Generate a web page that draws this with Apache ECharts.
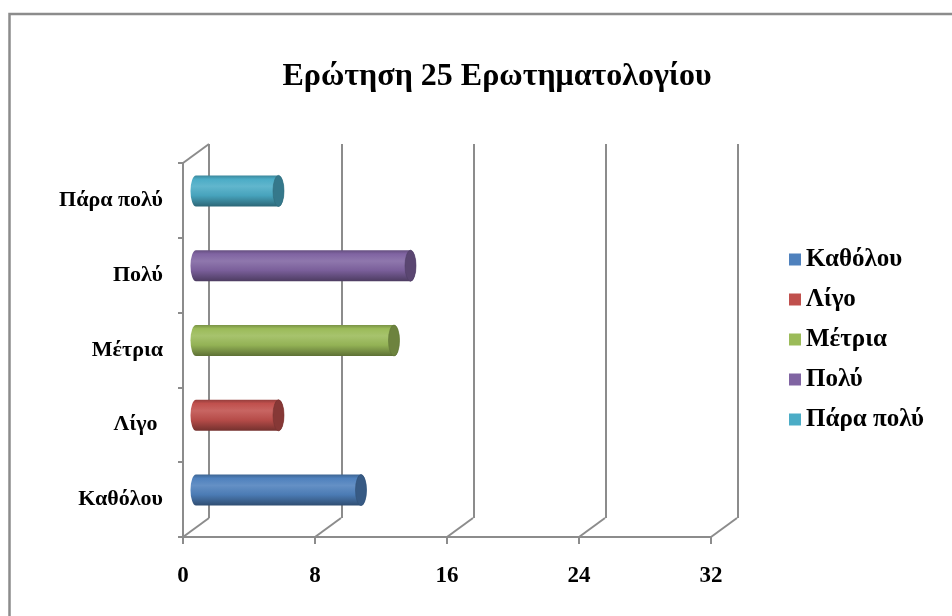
<!DOCTYPE html>
<html>
<head>
<meta charset="utf-8">
<script src="https://cdn.jsdelivr.net/npm/echarts@6/dist/echarts.min.js"></script>
<style>
  html, body { margin: 0; padding: 0; background: #ffffff; }
  #chart { width: 952px; height: 616px; }
</style>
</head>
<body>
<div id="chart"></div>
<script>
// Answers to question 25 of the questionnaire
const categories = ['Καθόλου', 'Λίγο ', 'Μέτρια', 'Πολύ', 'Πάρα πολύ'];
const values = [10, 5, 12, 13, 5];
const xTicks = [0, 8, 16, 24, 32];
const titleText = 'Ερώτηση 25 Ερωτηματολογίου';

const palette = ['#4F81BD', '#C0504D', '#9BBB59', '#8064A2', '#4BACC6'];
const FONT = "'Liberation Serif', 'Times New Roman', serif";
const GRID_GRAY = '#8c8c8c';
const DEPTH = [26, -19];       // oblique offset of the back wall
const BAR_DEPTH = [13, -9.5];  // bars sit half way into the depth

function shade(hex, f) {
  const n = parseInt(hex.slice(1), 16);
  let r = (n >> 16) & 255, g = (n >> 8) & 255, b = n & 255;
  if (f >= 1) {
    const t = f - 1;
    r = r + (255 - r) * t; g = g + (255 - g) * t; b = b + (255 - b) * t;
  } else {
    r *= f; g *= f; b *= f;
  }
  return 'rgb(' + Math.round(r) + ',' + Math.round(g) + ',' + Math.round(b) + ')';
}

// Cylinder-shaped horizontal bar
function cylinderRender(color) {
  return function (params, api) {
    const v = api.value(0);
    const c = api.value(1);
    const p0 = api.coord([0, c]);
    const p1 = api.coord([v, c]);
    const h = api.size([0, 1])[1] * 0.415;
    const rx = 5.5, ry = h / 2;
    const yt = p0[1] - ry, yb = p0[1] + ry;
    const x0 = p0[0], x1 = p1[0];
    const body = 'M' + x0 + ',' + yt + 'L' + x1 + ',' + yt +
      'A' + rx + ',' + ry + ',0,0,1,' + x1 + ',' + yb +
      'L' + x0 + ',' + yb +
      'A' + rx + ',' + ry + ',0,0,1,' + x0 + ',' + yt + 'Z';
    const cap = 'M' + x1 + ',' + yt +
      'A' + rx + ',' + ry + ',0,0,1,' + x1 + ',' + yb +
      'A' + rx + ',' + ry + ',0,0,1,' + x1 + ',' + yt + 'Z';
    return {
      type: 'group',
      children: [
        {
          type: 'path',
          shape: { pathData: body },
          style: {
            fill: new echarts.graphic.LinearGradient(0, 0, 0, 1, [
              { offset: 0, color: shade(color, 0.78) },
              { offset: 0.12, color: shade(color, 1.0) },
              { offset: 0.35, color: shade(color, 1.12) },
              { offset: 0.65, color: shade(color, 0.95) },
              { offset: 0.88, color: shade(color, 0.72) },
              { offset: 1, color: shade(color, 0.6) }
            ])
          }
        },
        {
          type: 'path',
          shape: { pathData: cap },
          style: { fill: shade(color, 0.7), stroke: shade(color, 0.62), lineWidth: 0.6 }
        }
      ]
    };
  };
}

// Floor diagonals from the front ticks to the back wall, plus the top-left wall edge
function frameRender(params, api) {
  const v = api.value(0);
  const kind = api.value(1);
  const bandH = api.size([0, 1])[1];
  let p;
  if (kind === 0) {
    p = api.coord([v, 0]);
    p = [p[0], p[1] + bandH / 2];
  } else {
    p = api.coord([v, categories.length - 1]);
    p = [p[0], p[1] - bandH / 2];
  }
  return {
    type: 'line',
    shape: { x1: p[0], y1: p[1], x2: p[0] + DEPTH[0], y2: p[1] + DEPTH[1] },
    style: { stroke: GRID_GRAY, lineWidth: 2 }
  };
}

const frameData = xTicks.map(function (t) { return [t, 0]; }).concat([[0, 1]]);

const series = [
  {
    type: 'custom',
    name: '__frame',
    xAxisIndex: 0,
    yAxisIndex: 0,
    renderItem: frameRender,
    data: frameData,
    silent: true,
    z: 1
  }
];
categories.forEach(function (name, i) {
  series.push({
    type: 'custom',
    name: name,
    xAxisIndex: 2,
    yAxisIndex: 2,
    color: palette[i],
    itemStyle: { color: palette[i] },
    renderItem: cylinderRender(palette[i]),
    data: [[values[i], i]],
    z: 5
  });
});

const chart = echarts.init(document.getElementById('chart'), null, { renderer: 'canvas' });
chart.setOption({
  backgroundColor: '#ffffff',
  animation: false,
  title: {
    text: titleText,
    left: 492,
    top: 56,
    textAlign: 'center',
    textStyle: { fontFamily: FONT, fontWeight: 'bold', fontSize: 32, color: '#000' }
  },
  legend: {
    data: categories,
    orient: 'vertical',
    left: 784,
    top: 242,
    icon: 'rect',
    itemWidth: 12,
    itemHeight: 12,
    itemGap: 15,
    itemTextGap: 7,
    textStyle: { fontFamily: FONT, fontWeight: 'bold', fontSize: 25, lineHeight: 20, color: '#000' }
  },
  graphic: [
    {
      type: 'rect',
      shape: { x: 9.5, y: 14, width: 1000, height: 700 },
      style: { fill: 'none', stroke: GRID_GRAY, lineWidth: 2.5 },
      silent: true,
      z: 0
    }
  ],
  grid: [
    { left: 183, top: 163, width: 528, height: 374, outerBoundsMode: 'none', containLabel: false },
    { left: 209, top: 144, width: 529, height: 374, outerBoundsMode: 'none', containLabel: false },
    { left: 183 + BAR_DEPTH[0], top: 163 + BAR_DEPTH[1], width: 528, height: 374, outerBoundsMode: 'none', containLabel: false }
  ],
  xAxis: [
    {
      gridIndex: 0, type: 'value', min: 0, max: 32, interval: 8,
      axisLine: { show: true, lineStyle: { color: GRID_GRAY, width: 2 } },
      axisTick: { show: true, length: 7, lineStyle: { color: GRID_GRAY, width: 2 } },
      splitLine: { show: false },
      axisLabel: { margin: 28, fontFamily: FONT, fontWeight: 'bold', fontSize: 23, color: '#000' }
    },
    {
      gridIndex: 1, type: 'value', min: 0, max: 32, interval: 8,
      axisLine: { show: false }, axisTick: { show: false }, axisLabel: { show: false },
      splitLine: { show: true, lineStyle: { color: GRID_GRAY, width: 2 } }
    },
    {
      gridIndex: 2, type: 'value', min: 0, max: 32, interval: 8, show: false
    }
  ],
  yAxis: [
    {
      gridIndex: 0, type: 'category', data: categories,
      axisLine: { show: true, lineStyle: { color: GRID_GRAY, width: 2 } },
      axisTick: { show: true, length: 5, lineStyle: { color: GRID_GRAY, width: 2 } },
      splitLine: { show: false },
      axisLabel: { margin: 20, fontFamily: FONT, fontWeight: 'bold', fontSize: 22, color: '#000' }
    },
    {
      gridIndex: 1, type: 'category', data: categories, show: false
    },
    {
      gridIndex: 2, type: 'category', data: categories, show: false
    }
  ],
  series: series
});
</script>
</body>
</html>
